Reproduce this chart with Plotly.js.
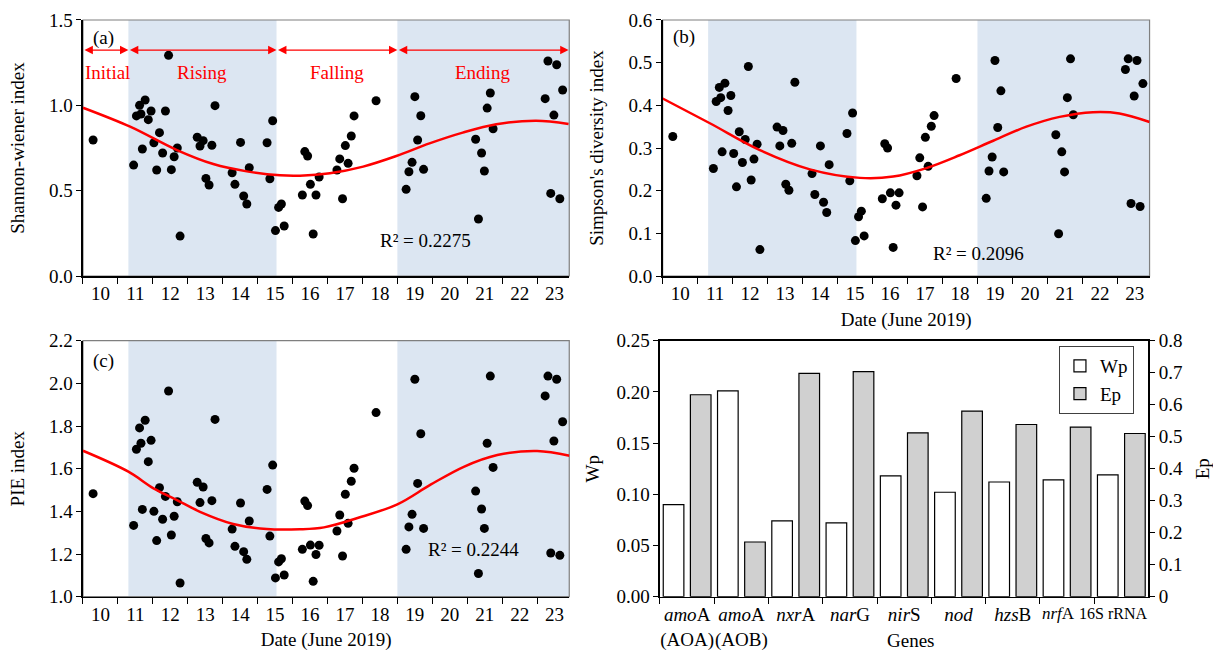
<!DOCTYPE html>
<html>
<head>
<meta charset="utf-8">
<script src="https://cdn.plot.ly/plotly-3.0.1.min.js"></script>
<style>html,body{margin:0;padding:0;background:#fff}#chart{width:1213px;height:651px}</style>
</head>
<body>
<div id="chart"></div>
<script>
// ---- sampling times (day of June 2019) ----
var sampleTime = [10.29,
11.45, 11.53, 11.62, 11.66, 11.70, 11.78, 11.87, 11.95, 12.03, 12.11, 12.19, 12.28, 12.36, 12.45, 12.53, 12.61, 12.70, 12.78,
13.27, 13.35, 13.44, 13.52, 13.61, 13.69, 13.78,
14.27, 14.35, 14.51, 14.60, 14.69, 14.76,
15.27, 15.35, 15.43, 15.51, 15.60, 15.68, 15.76,
16.28, 16.35, 16.43, 16.51, 16.59, 16.67, 16.76,
17.27, 17.35, 17.43, 17.51, 17.59, 17.68, 17.76,
18.39,
19.25, 19.33, 19.42, 19.50, 19.58, 19.67, 19.75,
21.24, 21.32, 21.41, 21.49, 21.57, 21.66, 21.74,
23.23, 23.31, 23.39, 23.48, 23.56, 23.65, 23.73];

var shannon = [0.797,
0.650, 0.938, 1.000, 0.949, 0.744, 1.031, 0.916, 0.967, 0.781, 0.621, 0.840, 0.721, 0.967, 1.293, 0.623, 0.699, 0.750, 0.234,
0.813, 0.762, 0.793, 0.572, 0.533, 0.766, 0.998,
0.605, 0.537, 0.783, 0.469, 0.422, 0.635,
0.781, 0.570, 0.910, 0.266, 0.402, 0.422, 0.293,
0.475, 0.729, 0.703, 0.537, 0.246, 0.475, 0.580,
0.621, 0.686, 0.453, 0.764, 0.660, 0.820, 0.938,
1.027,
0.508, 0.611, 0.666, 1.051, 0.797, 0.939, 0.625,
0.801, 0.334, 0.721, 0.615, 0.984, 1.072, 0.863,
1.039, 1.260, 0.484, 0.943, 1.238, 0.453, 1.090];

var simpson = [0.327,
0.252, 0.409, 0.442, 0.418, 0.291, 0.452, 0.388, 0.423, 0.287, 0.209, 0.338, 0.266, 0.320, 0.491, 0.225, 0.274, 0.309, 0.062,
0.349, 0.305, 0.341, 0.215, 0.201, 0.311, 0.454,
0.240, 0.191, 0.305, 0.173, 0.149, 0.261,
0.334, 0.223, 0.382, 0.083, 0.139, 0.152, 0.094,
0.181, 0.310, 0.300, 0.195, 0.067, 0.166, 0.195,
0.235, 0.277, 0.162, 0.325, 0.257, 0.351, 0.376,
0.463,
0.182, 0.246, 0.279, 0.505, 0.348, 0.434, 0.244,
0.331, 0.099, 0.291, 0.244, 0.418, 0.509, 0.378,
0.484, 0.509, 0.170, 0.422, 0.505, 0.163, 0.451];

var pie = [1.483,
1.334, 1.691, 1.791, 1.719, 1.409, 1.827, 1.633, 1.733, 1.400, 1.263, 1.511, 1.363, 1.470, 1.964, 1.289, 1.377, 1.445, 1.064,
1.536, 1.441, 1.514, 1.273, 1.252, 1.450, 1.831,
1.317, 1.236, 1.439, 1.211, 1.175, 1.355,
1.503, 1.284, 1.617, 1.088, 1.163, 1.178, 1.102,
1.222, 1.448, 1.427, 1.242, 1.072, 1.198, 1.241,
1.308, 1.383, 1.191, 1.480, 1.344, 1.541, 1.602,
1.863,
1.222, 1.327, 1.386, 2.019, 1.531, 1.764, 1.320,
1.495, 1.109, 1.411, 1.320, 1.719, 2.034, 1.606,
1.941, 2.034, 1.205, 1.730, 2.019, 1.194, 1.820];

// ---- trend curves ----
var trendA_x = [10.0, 11.35, 12.69, 13.73, 14.69, 15.64, 16.21, 17.07, 18.02, 18.97, 19.92, 20.87, 21.83, 22.97, 23.9];
var trendA_y = [0.986, 0.875, 0.738, 0.656, 0.613, 0.590, 0.588, 0.602, 0.641, 0.703, 0.777, 0.840, 0.889, 0.910, 0.891];
var trendB_x = [10.0, 11.35, 12.78, 14.21, 15.64, 16.59, 17.54, 18.49, 19.45, 20.40, 21.35, 22.30, 23.06, 23.92];
var trendB_y = [0.416, 0.358, 0.295, 0.250, 0.230, 0.233, 0.253, 0.283, 0.317, 0.350, 0.373, 0.384, 0.381, 0.361];
var trendC_x = [10.0, 11.30, 12.02, 12.69, 13.35, 14.30, 15.26, 16.21, 16.9, 17.86, 19.0, 19.95, 20.9, 21.86, 23.0, 23.93];
var trendC_y = [1.684, 1.586, 1.508, 1.453, 1.398, 1.341, 1.317, 1.316, 1.325, 1.369, 1.433, 1.525, 1.609, 1.664, 1.683, 1.661];

var r2Labels = ['R² = 0.2275', 'R² = 0.2096', 'R² = 0.2244'];
var dayLabels = ['10','11','12','13','14','15','16','17','18','19','20','21','22','23'];
var phaseNames = ['Initial', 'Rising', 'Falling', 'Ending'];
var phaseBounds = [10.0, 11.3, 15.54, 19.0, 23.9];

// ---- panel (d) ----
var genes = ['amoA (AOA)', 'amoA (AOB)', 'nxrA', 'narG', 'nirS', 'nod', 'hzsB', 'nrfA', '16S rRNA'];
var geneLabels = ['<i>amo</i>A<br>(AOA)', '<i>amo</i>A<br>(AOB)', '<i>nxr</i>A', '<i>nar</i>G', '<i>nir</i>S', '<i>nod</i>', '<i>hzs</i>B', '<i>nrf</i>A', '16S rRNA'];
var wp = [0.090, 0.201, 0.074, 0.072, 0.118, 0.102, 0.112, 0.114, 0.119];
var ep = [0.631, 0.171, 0.698, 0.703, 0.512, 0.580, 0.538, 0.530, 0.510];

var FONT = 'Liberation Serif, Times New Roman, serif';
var SHADE = '#dce6f2';
var dayTickVals = dayLabels.map(function(d){return +d + 0.5;});
var dayBounds = dayLabels.map(function(d){return +d;});

function dayAxis(dom, anchor, title) {
  var ax = {
    domain: dom, anchor: anchor, range: [10, 23.92],
    tickmode: 'array', tickvals: dayTickVals, ticktext: dayLabels, ticks: '',
    minor: {tickmode: 'array', tickvals: dayBounds, ticks: 'outside', ticklen: 6, tickcolor: '#000', tickwidth: 1, showgrid: false},
    showline: true, linecolor: '#000', linewidth: 1.5, showgrid: false, zeroline: false,
    tickfont: {family: FONT, size: 19, color: '#000'}, fixedrange: true
  };
  if (title) ax.title = {text: title, font: {family: FONT, size: 19, color: '#000'}, standoff: 9};
  return ax;
}
function valAxis(dom, anchor, rng, dt, fmt, title, so) {
  return {
    domain: dom, anchor: anchor, range: rng, dtick: dt, tick0: rng[0], tickformat: fmt,
    ticks: 'outside', ticklen: 5, tickcolor: '#000', showline: true, linecolor: '#000', linewidth: 1.5,
    showgrid: false, zeroline: false, tickfont: {family: FONT, size: 19, color: '#000'},
    title: {text: title, font: {family: FONT, size: 19, color: '#000'}, standoff: so}, fixedrange: true
  };
}

var dots = {color: '#000', size: 9};
var redLine = {color: '#ff0000', width: 2.5, shape: 'spline', smoothing: 1};
var traces = [
  {x: sampleTime, y: shannon, xaxis: 'x', yaxis: 'y', mode: 'markers', type: 'scatter', marker: dots, showlegend: false},
  {x: trendA_x, y: trendA_y, xaxis: 'x', yaxis: 'y', mode: 'lines', type: 'scatter', line: redLine, showlegend: false},
  {x: sampleTime, y: simpson, xaxis: 'x2', yaxis: 'y2', mode: 'markers', type: 'scatter', marker: dots, showlegend: false},
  {x: trendB_x, y: trendB_y, xaxis: 'x2', yaxis: 'y2', mode: 'lines', type: 'scatter', line: redLine, showlegend: false},
  {x: sampleTime, y: pie, xaxis: 'x3', yaxis: 'y3', mode: 'markers', type: 'scatter', marker: dots, showlegend: false},
  {x: trendC_x, y: trendC_y, xaxis: 'x3', yaxis: 'y3', mode: 'lines', type: 'scatter', line: redLine, showlegend: false},
  {x: genes, y: wp, name: 'Wp', type: 'bar', xaxis: 'x4', yaxis: 'y4', width: 0.38, offset: -0.44,
   marker: {color: '#ffffff', line: {color: '#000', width: 1.2}}},
  {x: genes, y: ep, name: 'Ep', type: 'bar', xaxis: 'x4', yaxis: 'y5', width: 0.38, offset: 0.06,
   marker: {color: '#d0d0d0', line: {color: '#000', width: 1.2}}}
];

var domAx = [0.0684, 0.4693], domBx = [0.5463, 0.9477], domDx = [0.5441, 0.9468];
var domTop = [0.576, 0.9693], domBot = [0.0834, 0.4767];

var shapes = [];
[['x','y'],['x2','y2'],['x3','y3']].forEach(function(p){
  [[phaseBounds[1], phaseBounds[2]], [phaseBounds[3], 23.92]].forEach(function(s){
    shapes.push({type: 'rect', xref: p[0], yref: p[1] + ' domain', x0: s[0], x1: s[1], y0: 0, y1: 1,
      fillcolor: SHADE, line: {width: 0}, layer: 'below'});
  });
  shapes.push({type: 'rect', xref: p[0] + ' domain', yref: p[1] + ' domain', x0: 0, x1: 1, y0: 0, y1: 1,
    fillcolor: 'rgba(0,0,0,0)', line: {color: '#7f7f7f', width: 1.2}, layer: 'below'});
});

var annotations = [];
var txt = function(s, c){ return {family: FONT, size: s || 19, color: c || '#000'}; };
annotations.push({xref: 'x', yref: 'y', x: 10.58, y: 1.395, text: '(a)', showarrow: false, font: txt()});
annotations.push({xref: 'x2', yref: 'y2', x: 10.62, y: 0.561, text: '(b)', showarrow: false, font: txt()});
annotations.push({xref: 'x3', yref: 'y3', x: 10.59, y: 2.106, text: '(c)', showarrow: false, font: txt()});
annotations.push({xref: 'x', yref: 'y', x: 19.81, y: 0.211, text: r2Labels[0], showarrow: false, font: txt()});
annotations.push({xref: 'x2', yref: 'y2', x: 19.04, y: 0.053, text: r2Labels[1], showarrow: false, font: txt()});
annotations.push({xref: 'x3', yref: 'y3', x: 21.17, y: 1.222, text: r2Labels[2], showarrow: false, font: txt()});
for (var i = 0; i < 4; i++) {
  annotations.push({xref: 'x', yref: 'y', axref: 'x', ayref: 'y', x: phaseBounds[i+1], y: 1.324,
    ax: phaseBounds[i], ay: 1.324, text: '', showarrow: true, arrowhead: 2, arrowside: 'end+start',
    arrowsize: 1.4, arrowwidth: 1.2, arrowcolor: '#ff0000', standoff: 0, startstandoff: 0});
  annotations.push({xref: 'x', yref: 'y', x: (phaseBounds[i] + phaseBounds[i+1]) / 2 + (i === 0 ? 0.04 : 0),
    y: 1.19, text: phaseNames[i], showarrow: false, font: txt(0, '#ff0000')});
}
annotations.push({xref: 'paper', yref: 'paper', x: 910 / 1213, y: 1 - 640/651, text: 'Genes', showarrow: false,
  font: txt(), xanchor: 'center', yanchor: 'middle'});
// the last two gene labels are set by hand so that they do not collide with each other or the right axis
annotations.push({xref: 'paper', yref: 'paper', x: 1058 / 1213, y: 1 - 613/651, text: geneLabels[7], showarrow: false,
  font: txt(17), xanchor: 'center', yanchor: 'middle'});
annotations.push({xref: 'paper', yref: 'paper', x: 1149 / 1213, y: 1 - 613/651, text: geneLabels[8], showarrow: false,
  font: txt(16), xanchor: 'right', yanchor: 'middle'});
var tickLabelsShown = geneLabels.map(function(t, k){ return k >= 7 ? '' : t; });

var layout = {
  width: 1213, height: 651, margin: {l: 0, r: 0, t: 0, b: 0},
  paper_bgcolor: '#fff', plot_bgcolor: 'rgba(0,0,0,0)',
  font: {family: FONT, size: 19, color: '#000'},
  xaxis: dayAxis(domAx, 'y'),
  yaxis: valAxis(domTop, 'x', [0, 1.5], 0.5, '.1f', 'Shannon-wiener index', 19),
  xaxis2: dayAxis(domBx, 'y2', 'Date (June 2019)'),
  yaxis2: valAxis(domTop, 'x2', [0, 0.6], 0.1, '.1f', "Simpson's diversity index", 20),
  xaxis3: dayAxis(domAx, 'y3', 'Date (June 2019)'),
  yaxis3: valAxis(domBot, 'x3', [1.0, 2.2], 0.2, '.1f', 'PIE index', 19),
  xaxis4: {domain: domDx, anchor: 'y4', type: 'category', tickmode: 'array', tickvals: genes, ticktext: tickLabelsShown,
    tickangle: 0, tickson: 'boundaries', ticks: 'outside', ticklen: 6, tickcolor: '#000', showline: true, mirror: true,
    linecolor: '#000', linewidth: 1.5, showgrid: false, tickfont: {family: FONT, size: 19, color: '#000'}, fixedrange: true},
  yaxis4: valAxis(domBot, 'x4', [0, 0.25], 0.05, '.2f', 'Wp', 12),
  yaxis5: {overlaying: 'y4', anchor: 'x4', side: 'right', range: [0, 0.8], dtick: 0.1, tick0: 0,
    ticks: 'outside', ticklen: 5, tickcolor: '#000', showline: true, linecolor: '#000', linewidth: 1.5,
    showgrid: false, zeroline: false, tickfont: {family: FONT, size: 19, color: '#000'},
    title: {text: 'Ep', font: {family: FONT, size: 19, color: '#000'}, standoff: 18}, fixedrange: true},
  barmode: 'group',
  showlegend: true,
  legend: {x: 0.873, y: 0.4685, xanchor: 'left', yanchor: 'top', bgcolor: '#fff', bordercolor: '#404040',
    borderwidth: 1, font: {family: FONT, size: 19, color: '#000'}, tracegroupgap: 0, itemwidth: 30},
  shapes: shapes,
  annotations: annotations
};

Plotly.newPlot('chart', traces, layout, {displayModeBar: false, staticPlot: true});
</script>
</body>
</html>
